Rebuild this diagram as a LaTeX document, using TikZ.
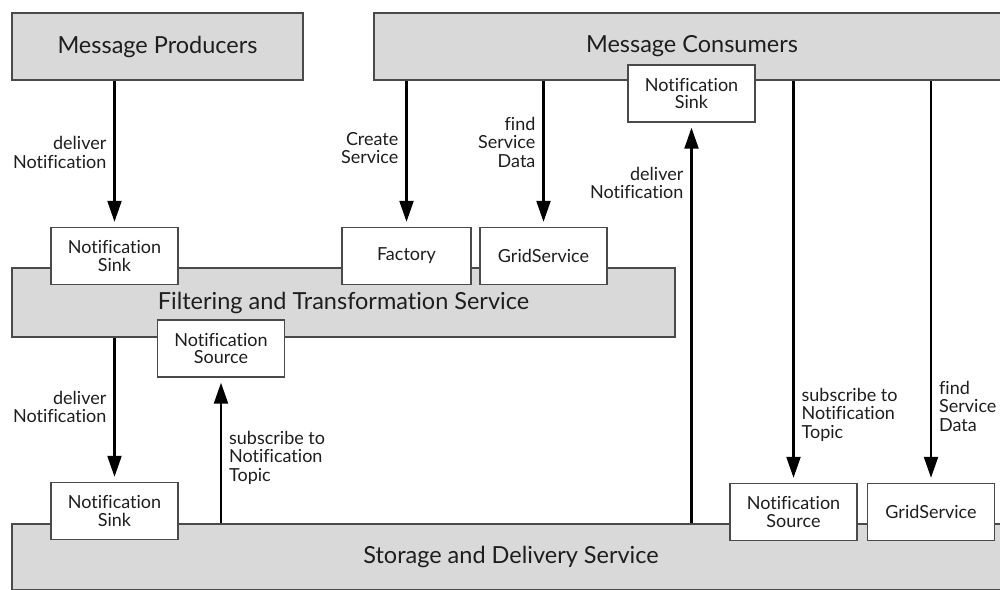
\documentclass[tikz,border=0pt]{standalone}
\usepackage{fontspec}
\setmainfont{Lato}[Ligatures={NoCommon}]
\usetikzlibrary{arrows.meta}
\definecolor{boxgray}{HTML}{D9D9D9}
\definecolor{edge}{HTML}{4A4A4A}
\definecolor{ink}{HTML}{1E1E1E}
\tikzset{
  bigbox/.style={draw=edge, line width=1.6pt, fill=boxgray, inner sep=0pt,
    text=ink, font=\fontsize{23.5}{27}\selectfont},
  smallbox/.style={draw=edge, line width=1.4pt, fill=white, inner sep=0pt,
    minimum width=127pt, minimum height=57pt, align=center, text=ink,
    font=\fontsize{18}{17.5}\selectfont},
  arr/.style={line width=2.2pt, black, -{Triangle[length=21pt,width=14pt]}, shorten >=5pt},
  lbl/.style={text=ink, font=\fontsize{18}{18.5}\selectfont, inner xsep=7pt, inner ysep=0pt},
  lblL/.style={lbl, left, align=right},
  lblR/.style={lbl, right, align=left},
}
\begin{document}
\begin{tikzpicture}[x=1pt, y=-1pt]
\useasboundingbox (0,0) rectangle (1000,589);
\fill[white] (0,0) rectangle (1000,589);
\clip (0,0) rectangle (1000,589);

% big boxes
\node[bigbox, minimum width=291pt, minimum height=67pt] (pro) at (157.5,46.5) {Message Producers};
\node[bigbox, minimum width=636pt, minimum height=67pt] (con) at (692,46.5) {Message Consumers};
\node[bigbox, minimum width=663pt, minimum height=69pt] (filt) at (343.5,302.5) {Filtering and Transformation Service};
\node[bigbox, minimum width=998pt, minimum height=66pt] (stor) at (511,557) {Storage and Delivery Service};

% small boxes
\node[smallbox] (sinkA) at (114.5,256) {Notification\\Sink};
\node[smallbox, minimum width=129pt] (fac) at (406.5,256) {Factory};
\node[smallbox] (gsA) at (543.5,256) {GridService};
\node[smallbox] (srcA) at (221,348.5) {Notification\\Source};
\node[smallbox] (sinkC) at (691.5,93.5) {Notification\\Sink};
\node[smallbox] (sinkB) at (114.5,511) {Notification\\Sink};
\node[smallbox] (srcB) at (793.5,512) {Notification\\Source};
\node[smallbox] (gsB) at (931,512) {GridService};

% connectors
\draw[arr] (sinkA.north |- pro.south) -- node[lblL, pos=0.49] {deliver\\Notification} (sinkA.north);
\draw[arr] (fac.north |- con.south) -- node[lblL, pos=0.46] {Create\\Service} (fac.north);
\draw[arr] (gsA.north |- con.south) -- node[lblL, pos=0.42] {find\\Service\\Data} (gsA.north);
\draw[arr] (sinkC.south |- stor.north) -- node[lblL, pos=0.85] {deliver\\Notification} (sinkC.south);
\draw[arr] (srcB.north |- con.south) -- node[lblR, pos=0.83] {subscribe to\\Notification\\Topic} (srcB.north);
\draw[arr] (gsB.north |- con.south) -- node[lblR, pos=0.81] {find\\Service\\Data} (gsB.north);
\draw[arr] (sinkB.north |- filt.south) -- node[lblL, pos=0.48] {deliver\\Notification} (sinkB.north);
\draw[arr] (srcA.south |- stor.north) -- node[lblR, pos=0.45] {subscribe to\\Notification\\Topic} (srcA.south);
\end{tikzpicture}
\end{document}
